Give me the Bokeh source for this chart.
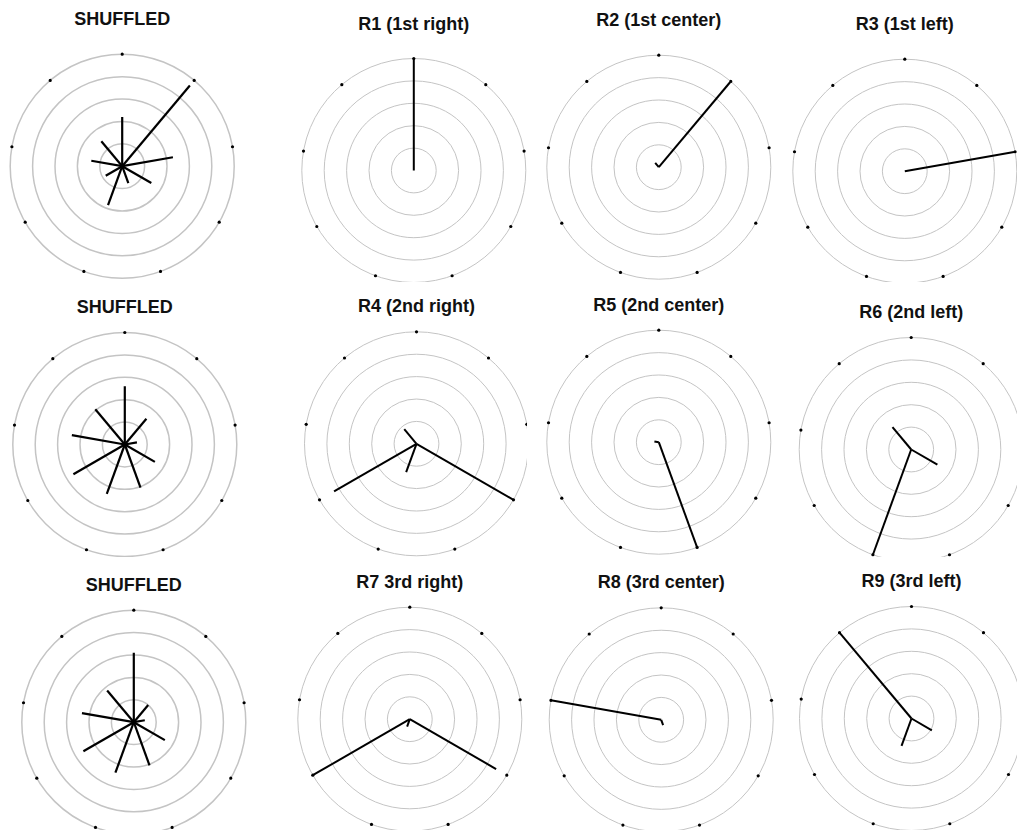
import numpy as np
from bokeh.plotting import figure
from bokeh.layouts import column, row
from bokeh.models import Label
from bokeh.embed import file_html
from bokeh.resources import INLINE

# ---- data -------------------------------------------------------------
categories = ["R1", "R2", "R3", "R4", "R5", "R6", "R7", "R8", "R9"]
ring_levels = [0.2, 0.4, 0.6, 0.8, 1.0]

panel_titles = [
    ["SHUFFLED", "R1 (1st right)", "R2 (1st center)", "R3 (1st left)"],
    ["SHUFFLED", "R4 (2nd right)", "R5 (2nd center)", "R6 (2nd left)"],
    ["SHUFFLED", "R7 3rd right)", "R8 (3rd center)", "R9 (3rd left)"],
]

shuffled_1 = [0.44, 0.94, 0.46, 0.30, 0.16, 0.37, 0.17, 0.28, 0.29]
r1_values = [1.00, 0.00, 0.00, 0.00, 0.00, 0.00, 0.00, 0.00, 0.00]
r2_values = [0.00, 0.99, 0.00, 0.00, 0.00, 0.00, 0.00, 0.00, 0.05]
r3_values = [0.00, 0.00, 0.99, 0.00, 0.00, 0.00, 0.00, 0.00, 0.00]
shuffled_2 = [0.52, 0.30, 0.11, 0.31, 0.41, 0.47, 0.53, 0.48, 0.41]
r4_values = [0.00, 0.00, 0.00, 1.00, 0.00, 0.27, 0.85, 0.00, 0.17]
r5_values = [0.00, 0.00, 0.00, 0.00, 1.00, 0.00, 0.00, 0.04, 0.00]
r6_values = [0.00, 0.00, 0.00, 0.27, 0.00, 1.00, 0.00, 0.00, 0.26]
shuffled_3 = [0.62, 0.20, 0.10, 0.32, 0.41, 0.48, 0.52, 0.47, 0.37]
r7_values = [0.00, 0.00, 0.00, 0.89, 0.00, 0.07, 1.00, 0.00, 0.00]
r8_values = [0.00, 0.00, 0.00, 0.00, 0.05, 0.00, 0.00, 1.00, 0.00]
r9_values = [0.00, 0.00, 0.00, 0.21, 0.00, 0.26, 0.00, 0.00, 1.00]

panel_values = [
    [shuffled_1, r1_values, r2_values, r3_values],
    [shuffled_2, r4_values, r5_values, r6_values],
    [shuffled_3, r7_values, r8_values, r9_values],
]

# ---- layout (page pixels) ---------------------------------------------
PX = 112.0  # pixels per unit radius
col_left = [0, 262, 527, 775]
col_width = [262, 265, 248, 242]
row_top = [0, 282, 557]
row_height = [282, 275, 273]
centers = [
    [(121.7, 165.7), (413.3, 170.0), (658.3, 166.7), (904.3, 170.7)],
    [(124.3, 444.0), (416.0, 443.3), (658.3, 441.7), (910.7, 449.0)],
    [(133.3, 721.7), (409.3, 718.7), (660.7, 719.3), (911.0, 718.0)],
]
title_offset_px = [147.0, 137.5, 137.5]

n = len(categories)
angles = np.pi / 2 - np.arange(n) * 2 * np.pi / n

rows = []
for i in range(3):
    figs = []
    for j in range(4):
        w, h = col_width[j], row_height[i]
        cx, cy = centers[i][j]
        lx = cx - col_left[j]
        ty = cy - row_top[i]
        p = figure(width=w, height=h, output_backend="svg", toolbar_location=None,
                   x_range=(-lx / PX, (w - lx) / PX),
                   y_range=(-(h - ty) / PX, ty / PX),
                   x_axis_location=None, y_axis_location=None,
                   min_border=0, tools="")
        p.grid.visible = False
        p.outline_line_color = None
        p.background_fill_color = "white"
        p.border_fill_color = "white"

        ring_w = 1.5 if j == 0 else 1.0
        p.circle(x=[0] * len(ring_levels), y=[0] * len(ring_levels), radius=ring_levels,
                 fill_color=None, line_color="#c4c4c4", line_width=ring_w)

        vals = np.array(panel_values[i][j])
        p.segment(x0=np.zeros(n), y0=np.zeros(n),
                  x1=vals * np.cos(angles), y1=vals * np.sin(angles),
                  line_color="black", line_width=2.2 if j == 0 else 2.0)

        p.scatter(x=np.cos(angles), y=np.sin(angles), size=3.2,
                  color="black", line_color=None)

        p.add_layout(Label(x=0, y=title_offset_px[i] / PX, text=panel_titles[i][j],
                           text_align="center", text_baseline="middle",
                           text_font="Liberation Sans", text_font_style="bold",
                           text_font_size="18px", text_color="#111111"))
        figs.append(p)
    rows.append(row(*figs))

layout = column(*rows)
open("out.html", "w").write(file_html(layout, INLINE))
